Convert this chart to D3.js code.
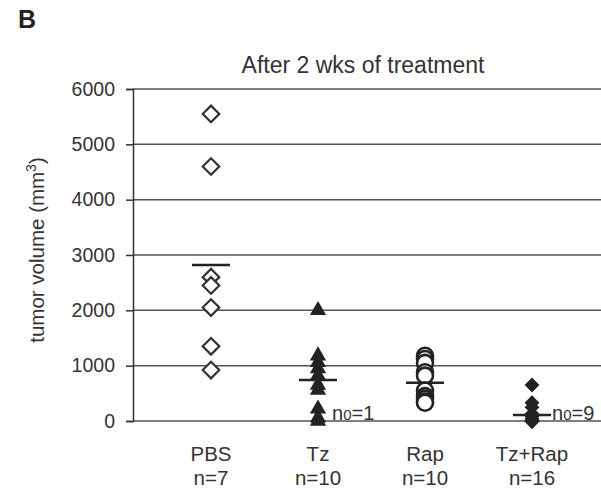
<!DOCTYPE html>
<html>
<head>
<meta charset="utf-8">
<script src="https://cdn.jsdelivr.net/npm/d3@7"></script>
<style>
  body { margin: 0; background: #fff; }
  svg { display: block; font-family: "Liberation Sans", Arial, sans-serif; }
</style>
</head>
<body>
<svg id="chart" width="601" height="491"></svg>
<script>
// groups along the x axis
const groups = ["PBS", "Tz", "Rap", "Tz+Rap"]
const groupCounts = ["n=7", "n=10", "n=10", "n=16"]

// tumour volumes per animal (mm3)
const pbsValues = [5550, 4600, 2600, 2450, 2050, 1350, 920]
const tzValues = [2000, 1180, 1060, 950, 820, 650, 560, 220, 60, 0]
const rapValues = [1180, 1120, 1050, 880, 820, 550, 450, 400, 350, 330]
const tzRapValues = [650, 330, 250, 130, 80, 40, 0, 0, 0, 0, 0, 0, 0, 0, 0, 0]

// group mean bars
const groupMeans = [2820, 740, 690, 110]

// count of zero-volume animals, shown next to the group
const zeroNotes = [null, "1", null, "9"]

const yTicks = [0, 1000, 2000, 3000, 4000, 5000, 6000]

const svg = d3.select("#chart")
const ink = "#333"

const y = d3.scaleLinear().domain([0, 6000]).range([421, 89])
const x = d3.scalePoint().domain(groups).range([211, 532])
const axisX = 133

// gridlines run to the right edge of the picture
svg.append("g")
    .selectAll("line")
    .data(yTicks)
    .join("line")
    .attr("x1", axisX).attr("x2", 601)
    .attr("y1", d => y(d)).attr("y2", d => y(d))
    .attr("stroke", "#555").attr("stroke-width", 1.5)

const yAxis = svg.append("g")
    .attr("transform", `translate(${axisX},0)`)
    .call(d3.axisLeft(y).tickValues(yTicks).tickSize(7).tickPadding(11).tickFormat(d3.format("d")))
yAxis.select(".domain").attr("stroke", ink).attr("stroke-width", 1.5)
yAxis.selectAll(".tick line").attr("stroke", ink).attr("stroke-width", 1.5)
yAxis.selectAll("text").attr("font-size", 19.5).attr("fill", ink)
    .attr("font-family", "'Liberation Sans', Arial, sans-serif")

// y label
const yLabel = svg.append("text")
    .attr("transform", "translate(44,250) rotate(-90)")
    .attr("text-anchor", "middle")
    .attr("font-size", 20.5).attr("fill", ink)
yLabel.append("tspan").text("tumor volume (mm")
yLabel.append("tspan").attr("dy", -8).attr("font-size", 14).text("3")
yLabel.append("tspan").attr("dy", 8).text(")")

// title and panel letter
svg.append("text")
    .attr("x", 363).attr("y", 73)
    .attr("text-anchor", "middle")
    .attr("font-size", 23).attr("fill", ink)
    .text("After 2 wks of treatment")

svg.append("text")
    .attr("x", 18).attr("y", 28)
    .attr("font-size", 25).attr("font-weight", "bold").attr("fill", "#222")
    .text("B")

// category labels
const catLabels = svg.append("g")
groups.forEach((g, i) => {
    catLabels.append("text")
        .attr("x", x(g)).attr("y", 461)
        .attr("text-anchor", "middle").attr("font-size", 20.5).attr("fill", ink)
        .text(g)
    catLabels.append("text")
        .attr("x", x(g)).attr("y", 485)
        .attr("text-anchor", "middle").attr("font-size", 20.5).attr("fill", ink)
        .text(groupCounts[i])
})

// points
const plot = svg.append("g")

plot.selectAll(".pbs")
    .data(pbsValues)
    .join("path")
    .attr("transform", d => `translate(${x("PBS")},${y(d)})`)
    .attr("d", d3.symbol(d3.symbolDiamond2, 175))
    .attr("fill", "#fff").attr("stroke", ink).attr("stroke-width", 2.2)

plot.selectAll(".tz")
    .data(tzValues)
    .join("path")
    .attr("transform", d => `translate(${x("Tz")},${y(d)})`)
    .attr("d", d3.symbol(d3.symbolTriangle, 115))
    .attr("fill", "#222")

plot.selectAll(".rap")
    .data(rapValues)
    .join("circle")
    .attr("cx", x("Rap")).attr("cy", d => y(d))
    .attr("r", 8)
    .attr("fill", "#fff").attr("stroke", "#222").attr("stroke-width", 2.6)

plot.selectAll(".tzrap")
    .data(tzRapValues)
    .join("path")
    .attr("transform", d => `translate(${x("Tz+Rap")},${y(d)})`)
    .attr("d", d3.symbol(d3.symbolDiamond2, 140))
    .attr("fill", "#222")

// mean bars
plot.selectAll(".mean")
    .data(groupMeans)
    .join("line")
    .attr("x1", (d, i) => x(groups[i]) - 19)
    .attr("x2", (d, i) => x(groups[i]) + 19)
    .attr("y1", d => y(d)).attr("y2", d => y(d))
    .attr("stroke", "#222").attr("stroke-width", 2.5)

// n0 notes, placed just right of the group's mean bar
zeroNotes.forEach((n, i) => {
    if (n == null) return
    const t = svg.append("text")
        .attr("x", x(groups[i]) + (i === 3 ? 20 : 14)).attr("y", 420)
        .attr("font-size", 20).attr("fill", ink)
    t.append("tspan").text("n")
    t.append("tspan").attr("font-size", 15).text("0")
    t.append("tspan").text("=" + n)
})
</script>
</body>
</html>
